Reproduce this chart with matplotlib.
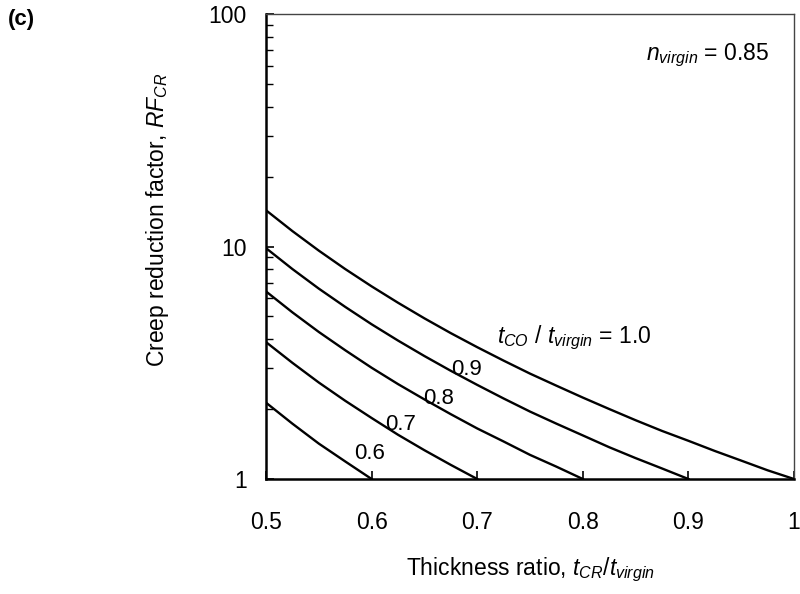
import matplotlib
matplotlib.use("Agg")
import matplotlib.pyplot as plt
import numpy as np
from matplotlib.ticker import FixedLocator, NullFormatter

plt.rcParams["font.family"] = ["Liberation Sans", "DejaVu Sans"]
plt.rcParams["mathtext.fontset"] = "custom"
plt.rcParams["mathtext.rm"] = "Liberation Sans"
plt.rcParams["mathtext.it"] = "Liberation Sans:italic"

# thickness ratio t_CR / t_virgin, read at steps of 0.025
x_10 = [0.5, 0.525, 0.55, 0.575, 0.6, 0.625, 0.65, 0.675, 0.7, 0.725, 0.75,
        0.775, 0.8, 0.825, 0.85, 0.875, 0.9, 0.925, 0.95, 0.975, 1.0]
rf_10 = [14.32, 11.65, 9.60, 8.00, 6.74, 5.73, 4.91, 4.24, 3.69, 3.23, 2.84,
         2.52, 2.24, 2.00, 1.79, 1.61, 1.46, 1.32, 1.20, 1.09, 1.0]

x_09 = x_10[:17]
rf_09 = [9.84, 8.00, 6.59, 5.50, 4.63, 3.94, 3.38, 2.92, 2.54, 2.22, 1.95,
         1.73, 1.54, 1.37, 1.23, 1.11, 1.0]

x_08 = x_10[:13]
rf_08 = [6.41, 5.21, 4.29, 3.58, 3.01, 2.56, 2.20, 1.90, 1.65, 1.45, 1.27,
         1.13, 1.0]

x_07 = x_10[:9]
rf_07 = [3.88, 3.16, 2.60, 2.17, 1.83, 1.55, 1.33, 1.15, 1.0]

x_06 = x_10[:5]
rf_06 = [2.13, 1.73, 1.42, 1.19, 1.0]

curves = [(x_10, rf_10), (x_09, rf_09), (x_08, rf_08), (x_07, rf_07), (x_06, rf_06)]

x_ticks = [0.5, 0.6, 0.7, 0.8, 0.9, 1.0]
x_ticklabels = ["0.5", "0.6", "0.7", "0.8", "0.9", "1"]
y_ticks = [1, 10, 100]
y_ticklabels = ["1", "10", "100"]

fs = 16.5

fig = plt.figure(figsize=(8, 5.94), dpi=100)
ax = fig.add_axes([0.3325, 0.1936, 0.66, 0.7828])

for xs, ys in curves:
    ax.plot(xs, ys, color="black", lw=1.7)

ax.set_yscale("log")
ax.set_xlim(0.5, 1.0)
ax.set_ylim(1, 100)

ax.set_xticks(x_ticks)
ax.set_xticklabels(x_ticklabels)
ax.set_yticks(y_ticks)
ax.set_yticklabels(y_ticklabels)
minor = [m * d for d in (1, 10) for m in range(2, 10)]
ax.yaxis.set_minor_locator(FixedLocator(minor))
ax.yaxis.set_minor_formatter(NullFormatter())

ax.tick_params(axis="both", which="major", direction="in", length=6, width=1.2,
               labelsize=fs)
ax.tick_params(axis="x", which="major", pad=23)
ax.tick_params(axis="y", which="major", pad=14)
ax.tick_params(axis="y", which="minor", direction="in", length=5, width=1.0)

for side in ("left", "bottom"):
    ax.spines[side].set_linewidth(1.8)
for side in ("top", "right"):
    ax.spines[side].set_linewidth(1.0)
    ax.spines[side].set_color("#444444")

ax.set_xlabel(r"Thickness ratio, $t_{CR}$/$t_{virgin}$", fontsize=fs)
ax.xaxis.set_label_coords(0.5, -0.165)
ax.set_ylabel(r"Creep reduction factor, $RF_{CR}$", fontsize=fs)
ax.yaxis.set_label_coords(-0.18, 0.557)

ax.text(0.977, 66.6, r"$n_{virgin}$ = 0.85", ha="right", va="center", fontsize=fs)
ax.text(0.719, 4.04, r"$t_{CO}$ / $t_{virgin}$ = 1.0", ha="left", va="center",
        fontsize=fs)
for lab, xx, yy in [("0.9", 0.690, 2.97), ("0.8", 0.663, 2.23),
                    ("0.7", 0.627, 1.71), ("0.6", 0.598, 1.29)]:
    ax.text(xx, yy, lab, ha="center", va="center", fontsize=16)

fig.text(0.01, 0.967, "(c)", fontsize=16, fontweight="bold", ha="left", va="center")

fig.savefig("out.png", dpi=100)
